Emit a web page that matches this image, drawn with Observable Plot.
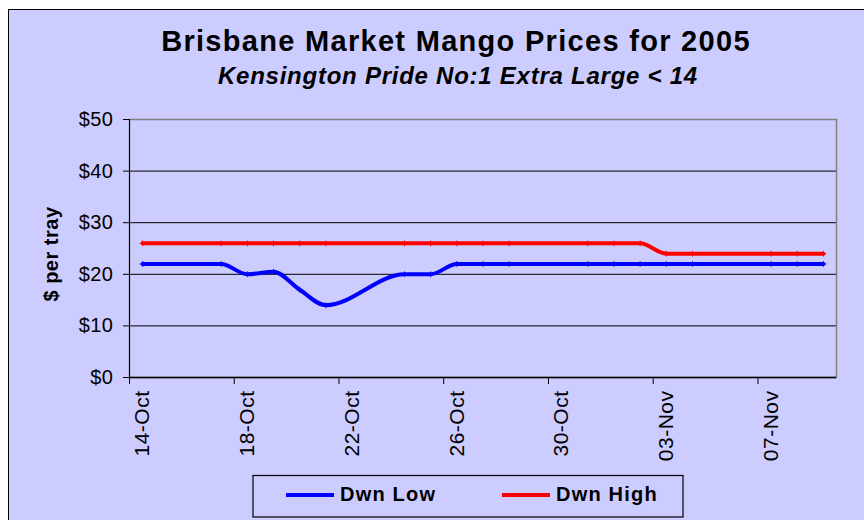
<!DOCTYPE html>
<html><head><meta charset="utf-8">
<script src="https://cdn.jsdelivr.net/npm/d3@7"></script>
<script src="https://cdn.jsdelivr.net/npm/@observablehq/plot@0.6"></script>
<style>
html,body{margin:0;padding:0;background:#fff;}
#wrap{position:relative;width:864px;height:520px;overflow:hidden;background:#fff;}
#bg{position:absolute;left:8px;top:9px;width:900px;height:560px;background:#ccccff;border-left:1.5px solid #000;border-top:1.5px solid #000;}
#chart{position:absolute;left:0;top:0;}
#overlay{position:absolute;left:0;top:0;}
</style></head><body>
<div id="wrap"><div id="bg"></div><div id="chart"></div><svg id="overlay" width="864" height="520"></svg></div>
<script>
// ---- data ----
const dates = ["2005-10-14","2005-10-17","2005-10-18","2005-10-19","2005-10-20","2005-10-21",
  "2005-10-24","2005-10-25","2005-10-26","2005-10-27","2005-10-28",
  "2005-10-31","2005-11-01","2005-11-02","2005-11-03","2005-11-04",
  "2005-11-07","2005-11-08","2005-11-09"];
const dwnLow  = [22,22,20,20.5,17,14, 20,20,22,22,22, 22,22,22,22,22, 22,22,22];
const dwnHigh = [26,26,26,26,26,26, 26,26,26,26,26, 26,26,26,24,24, 24,24,24];
const tickDates = ["2005-10-14","2005-10-18","2005-10-22","2005-10-26","2005-10-30","2005-11-03","2005-11-07"];
const domainDates = ["2005-10-14","2005-11-10"];
const yTicks = [0,10,20,30,40,50];
const seriesNames = ["Dwn Low","Dwn High"];
const seriesColors = ["#0000ff","#ff0000"];
const titleText = "Brisbane Market Mango Prices for 2005";
const subtitleText = "Kensington Pride No:1 Extra Large < 14";
const yLabel = "$ per tray";

const day = s => new Date(s + "T00:00:00Z");
const noon = s => new Date(s + "T12:00:00Z");
const rows = dates.flatMap((d,i)=>[
  {date:noon(d), value:dwnLow[i], series:seriesNames[0]},
  {date:noon(d), value:dwnHigh[i], series:seriesNames[1]}
]);
const FONT = "'Liberation Sans', Arial, sans-serif";

const plot = Plot.plot({
  width: 864, height: 520,
  marginLeft:129, marginRight:28, marginTop:119, marginBottom:143,
  style:{background:"transparent", fontFamily:FONT, fontSize:"20px", color:"#000", letterSpacing:"0.5px"},
  x:{type:"utc", domain:domainDates.map(day)},
  y:{domain:[0,50]},
  color:{domain:seriesNames, range:seriesColors},
  marks:[
    Plot.ruleY([10,20,30,40], {stroke:"#000", strokeWidth:1}),
    Plot.frame({stroke:"#808080", strokeWidth:1.5}),
    Plot.ruleY([0], {stroke:"#000", strokeWidth:1.5}),
    Plot.ruleX([day(domainDates[0])], {stroke:"#000", strokeWidth:1}),
    Plot.axisY({ticks:yTicks, tickFormat:d=>"$"+d, tickSize:6, tickPadding:10, fontSize:20, label:null, stroke:"#000"}),
    Plot.axisX({ticks:tickDates.map(day), tickSize:7, tickFormat:()=>"", label:null, stroke:"#000"}),
    Plot.axisX({ticks:tickDates.map(noon), tickSize:0, tickPadding:13, tickRotate:-90, textAnchor:"end", fontSize:21, tickFormat:d3.utcFormat("%d-%b"), label:null}),
    Plot.line(rows, {x:"date", y:"value", z:"series", stroke:"series", strokeWidth:4, curve:"monotone-x"}),
    Plot.dot(rows, {x:"date", y:"value", stroke:"series", symbol:"plus", r:2, strokeWidth:1})
  ]
});
document.getElementById("chart").appendChild(plot);

// ---- titles, axis label, legend ----
const ov = d3.select("#overlay").style("font-family", FONT);
ov.append("text").attr("x",456).attr("y",50.7).attr("text-anchor","middle")
  .style("font-weight","bold").style("font-size","29px").style("letter-spacing","1.3px").text(titleText);
ov.append("text").attr("x",458).attr("y",84).attr("text-anchor","middle")
  .style("font-weight","bold").style("font-style","italic").style("font-size","24px").style("letter-spacing","0.75px").text(subtitleText);
ov.append("text").attr("transform","translate(57.5,254) rotate(-90)").attr("text-anchor","middle")
  .style("font-weight","bold").style("font-size","20px").style("letter-spacing","0.5px").text(yLabel);

ov.append("rect").attr("x",253).attr("y",475.5).attr("width",430).attr("height",41.5)
  .attr("fill","none").attr("stroke","#000").attr("stroke-width",1.2);
const legendX = [[286,334,340],[502,550,556]];
seriesNames.forEach((name,i)=>{
  const [x1,x2,tx] = legendX[i];
  ov.append("line").attr("x1",x1).attr("x2",x2).attr("y1",495).attr("y2",495)
    .attr("stroke",seriesColors[i]).attr("stroke-width",4);
  ov.append("text").attr("x",tx).attr("y",500.7)
    .style("font-weight","bold").style("font-size","20px").style("letter-spacing","1.2px").text(name);
});
</script>
</body></html>
